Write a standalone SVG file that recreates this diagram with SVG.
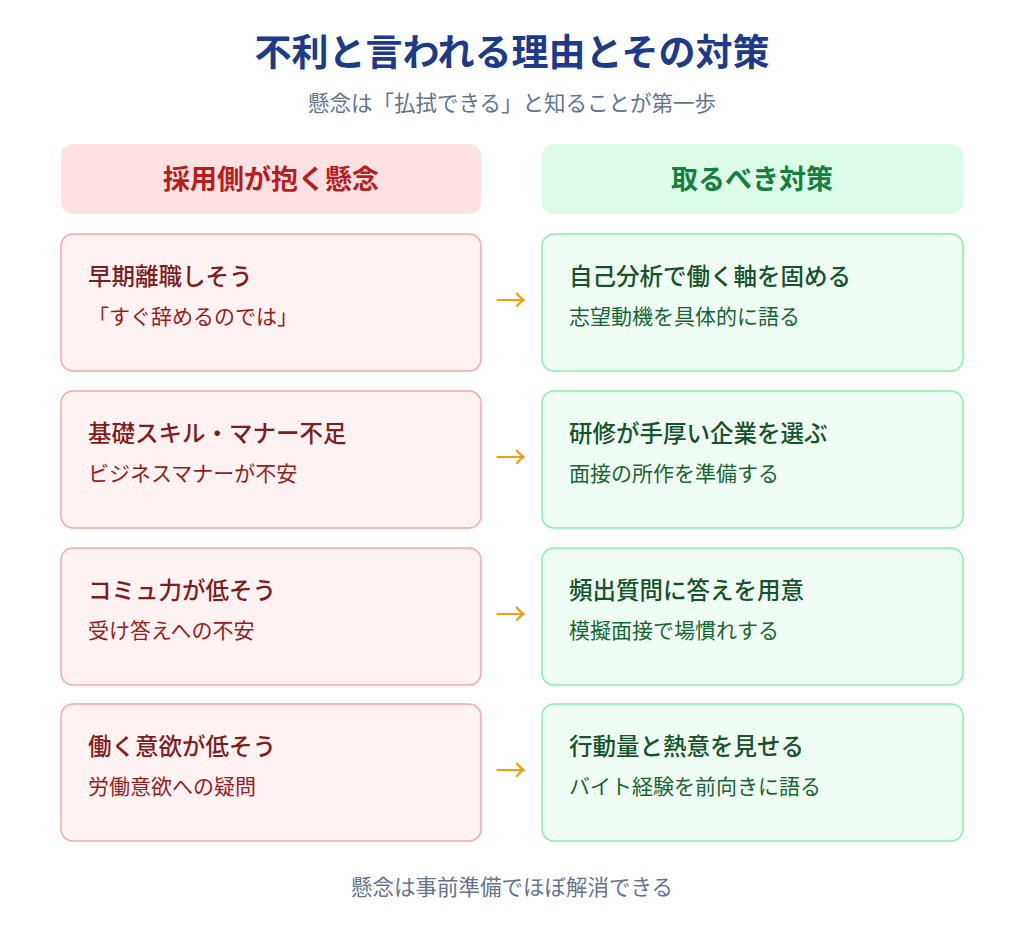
<svg xmlns="http://www.w3.org/2000/svg" width="1024" height="934" viewBox="0 0 1024 934">
<style>
text{font-family:"Noto Sans CJK JP","Noto Sans",sans-serif}
.title{font-size:37px;font-weight:700;fill:#1e3a8a}
.sub{font-size:21.5px;fill:#64748b}
.hl{fill:#fee2e2}
.hr{fill:#dcfce7}
.htl{font-size:27px;font-weight:700;fill:#b91c1c}
.htr{font-size:27px;font-weight:700;fill:#15803d}
.cl{fill:#fef2f2;stroke:#fca5a5;stroke-width:1.5}
.cr{fill:#f0fdf4;stroke:#86efac;stroke-width:1.5}
.ml{font-size:23.5px;fill:#7f1d1d;font-weight:500}
.sl{font-size:21px;fill:#991b1b}
.mr{font-size:23.5px;fill:#14532d;font-weight:500}
.sr{font-size:21px;fill:#166534}
.arr{font-size:31px;fill:#f59e0b}
</style>
<rect width="1024" height="934" fill="#ffffff"/>
<text class="title" x="512" y="66" text-anchor="middle">不利と言われる理由とその対策</text>
<text class="sub" x="512" y="111" text-anchor="middle">懸念は「払拭できる」と知ることが第一歩</text>
<g id="header-left"><rect class="hl" x="61" y="144" width="420" height="70" rx="12"/><text class="htl" x="271" y="189" text-anchor="middle">採用側が抱く懸念</text></g>
<g id="header-right"><rect class="hr" x="542" y="144" width="421" height="70" rx="12"/><text class="htr" x="752" y="189" text-anchor="middle">取るべき対策</text></g>
<g id="l1"><rect class="cl" x="61" y="234" width="420" height="137" rx="12"/><text class="ml" x="88" y="285">早期離職しそう</text><text class="sl" x="88" y="324">「すぐ辞めるのでは」</text></g>
<g id="r1"><rect class="cr" x="542" y="234" width="421" height="137" rx="12"/><text class="mr" x="569" y="285">自己分析で働く軸を固める</text><text class="sr" x="569" y="324">志望動機を具体的に語る</text></g>
<g id="l2"><rect class="cl" x="61" y="391" width="420" height="137" rx="12"/><text class="ml" x="88" y="442">基礎スキル・マナー不足</text><text class="sl" x="88" y="481">ビジネスマナーが不安</text></g>
<g id="r2"><rect class="cr" x="542" y="391" width="421" height="137" rx="12"/><text class="mr" x="569" y="442">研修が手厚い企業を選ぶ</text><text class="sr" x="569" y="481">面接の所作を準備する</text></g>
<g id="l3"><rect class="cl" x="61" y="548" width="420" height="137" rx="12"/><text class="ml" x="88" y="599">コミュ力が低そう</text><text class="sl" x="88" y="638">受け答えへの不安</text></g>
<g id="r3"><rect class="cr" x="542" y="548" width="421" height="137" rx="12"/><text class="mr" x="569" y="599">頻出質問に答えを用意</text><text class="sr" x="569" y="638">模擬面接で場慣れする</text></g>
<g id="l4"><rect class="cl" x="61" y="704" width="420" height="137" rx="12"/><text class="ml" x="88" y="755">働く意欲が低そう</text><text class="sl" x="88" y="794">労働意欲への疑問</text></g>
<g id="r4"><rect class="cr" x="542" y="704" width="421" height="137" rx="12"/><text class="mr" x="569" y="755">行動量と熱意を見せる</text><text class="sr" x="569" y="794">バイト経験を前向きに語る</text></g>
<g id="connectors">
<text class="arr" x="511" y="311" text-anchor="middle">→</text>
<text class="arr" x="511" y="468" text-anchor="middle">→</text>
<text class="arr" x="511" y="625" text-anchor="middle">→</text>
<text class="arr" x="511" y="781" text-anchor="middle">→</text>
</g>
<text class="sub" x="512" y="895" text-anchor="middle">懸念は事前準備でほぼ解消できる</text>
</svg>
